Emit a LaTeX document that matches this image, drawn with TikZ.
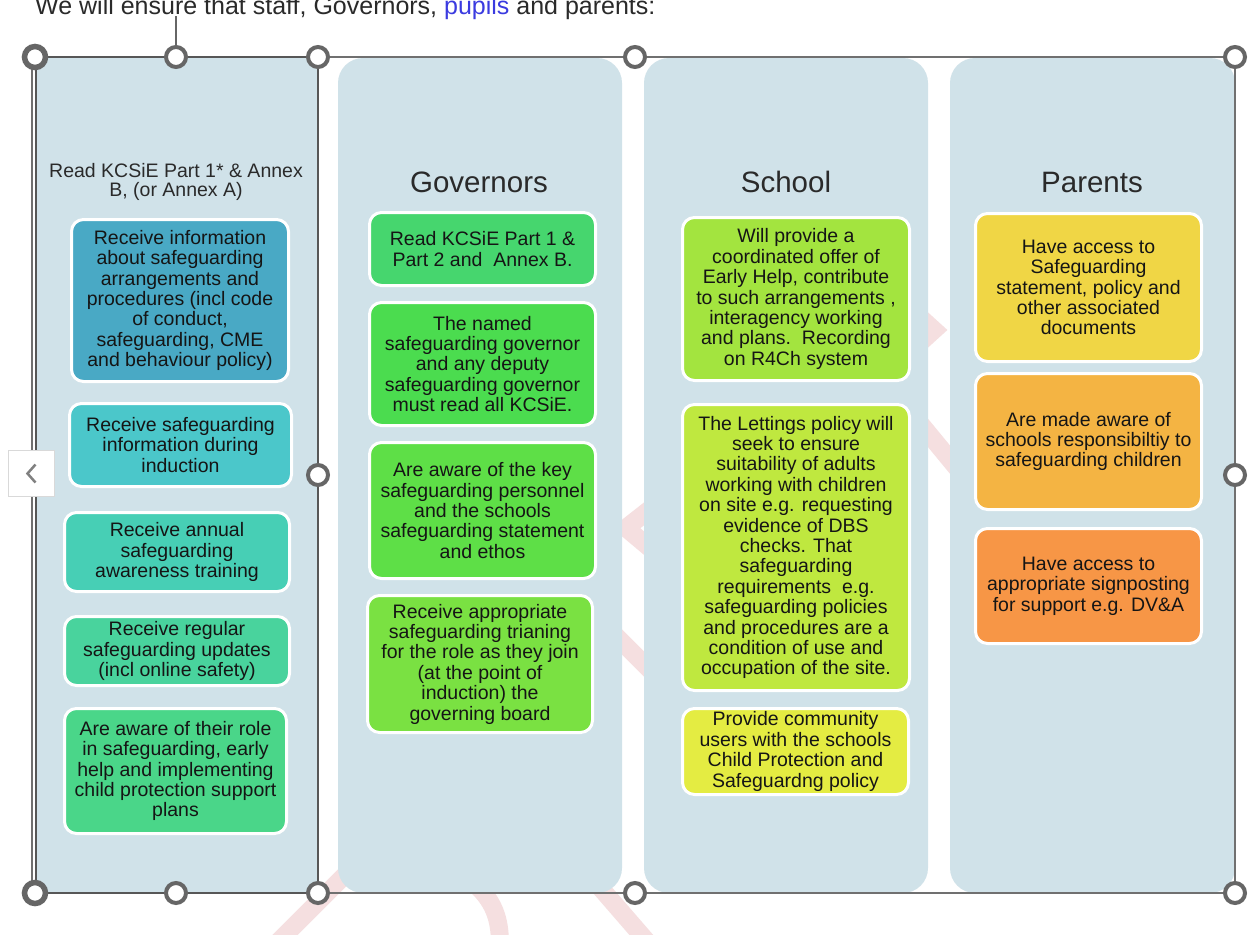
\documentclass[tikz,border=0pt]{standalone}
\usepackage{fontspec}
\setmainfont{Liberation Sans}
\definecolor{colbg}{HTML}{D0E2E9}
\definecolor{txt}{HTML}{151515}
\definecolor{hdrc}{HTML}{2A2A2A}
\definecolor{hgrey}{HTML}{666666}
\definecolor{frm}{HTML}{707070}
\definecolor{wm}{HTML}{F5DFE0}
\definecolor{linkblue}{HTML}{3B3BE0}
\definecolor{aa}{HTML}{49A9C5}
\definecolor{ab}{HTML}{4BC7CA}
\definecolor{ac}{HTML}{47CFB5}
\definecolor{ad}{HTML}{49D39D}
\definecolor{ae}{HTML}{4AD689}
\definecolor{ba}{HTML}{46D66E}
\definecolor{bb}{HTML}{4BDC4F}
\definecolor{bc}{HTML}{5EDF47}
\definecolor{bd}{HTML}{7AE142}
\definecolor{ca}{HTML}{A3E43F}
\definecolor{cb}{HTML}{BFE83F}
\definecolor{cc}{HTML}{E4EC42}
\definecolor{da}{HTML}{F0D645}
\definecolor{db}{HTML}{F4B443}
\definecolor{dc}{HTML}{F79646}
\tikzset{
  col/.style={fill=colbg, draw=none, rounded corners=25pt},
  itembox/.style={draw=white, line width=3pt, rounded corners=12pt, align=center,
    inner sep=0pt, text=txt, font=\fontsize{19.5}{20.4}\selectfont},
  hdr/.style={text=hdrc, font=\fontsize{29.5}{30}\selectfont, inner sep=0pt},
  handle/.style={circle, draw=hgrey, fill=white, line width=4pt, minimum size=20pt, inner sep=0pt},
  bighandle/.style={handle, line width=5.5pt, minimum size=21pt},
  wmstroke/.style={draw=wm, line width=18pt},
}
\begin{document}
\begin{tikzpicture}[x=1pt, y=-1pt]
\useasboundingbox (0,0) rectangle (1254,935);
\fill[white] (0,0) rectangle (1254,935);

% faint watermark behind the columns
\draw[wmstroke] (700,470) -- (626,528) -- (700,590);
\draw[wmstroke] (600,620) -- (680,700);
\draw[wmstroke] (890,290) -- (934,330) -- (890,370);
\draw[wmstroke] (905,405) -- (975,490);
\draw[wmstroke] (350,870) -- (275,945);
\draw[wmstroke] (470,880) .. controls (495,900) and (500,920) .. (500,945);
\draw[wmstroke] (585,870) -- (650,945);

% top line of text (cut by the page edge)
\node[anchor=base west, inner sep=0pt, text=hdrc, font=\fontsize{25}{25}\selectfont] (toptext) at (35,14)
  {We will ensure that staff, Governors, \textcolor{linkblue}{pupils} and parents:};

% columns
\fill[colbg] (37,57) rectangle (318,893);
\path[col] (338,58) rectangle (622,893);
\path[col] (644,58) rectangle (928,893);
\path[col] (950,58) rectangle (1235,893);

% selection frames
\draw[frm, line width=1.5pt] (32,57) rectangle (1235,893);
\draw[hgrey!85!black, line width=2.5pt] (36,57) rectangle (318,893);

% headers
\node[text=hdrc, align=center, inner sep=0pt, font=\fontsize{19.5}{19.5}\selectfont] (h1) at (176,182)
  {Read KCSiE Part 1* \& Annex\\B, (or Annex A)};
\node[hdr] (h2) at (479,182) {Governors};
\node[hdr] (h3) at (786,182) {School};
\node[hdr] (h4) at (1092,182) {Parents};

% staff column
\node[itembox, fill=aa, minimum width=217pt, minimum height=162pt] (a1) at (180,300.5)
  {Receive information\\about safeguarding\\arrangements and\\procedures (incl code\\of conduct,\\safeguarding, CME\\and behaviour policy)};
\node[itembox, fill=ab, minimum width=222pt, minimum height=83pt] (a2) at (180.5,445)
  {Receive safeguarding\\information during\\induction};
\node[itembox, fill=ac, minimum width=225pt, minimum height=79pt] (a3) at (177,552)
  {Receive annual\\safeguarding\\awareness training};
\node[itembox, fill=ad, minimum width=225pt, minimum height=69pt] (a4) at (177,651)
  {Receive regular\\safeguarding updates\\(incl online safety)};
\node[itembox, fill=ae, minimum width=222pt, minimum height=125pt] (a5) at (175.5,771)
  {Are aware of their role\\in safeguarding, early\\help and implementing\\child protection support\\plans};

% governors column
\node[itembox, fill=ba, minimum width=226pt, minimum height=73pt] (b1) at (482.5,249)
  {Read KCSiE Part 1 \&\\Part 2 and\ \ Annex B.};
\node[itembox, fill=bb, minimum width=226pt, minimum height=123pt] (b2) at (482.5,364)
  {The named\\safeguarding governor\\and any deputy\\safeguarding governor\\must read all KCSiE.};
\node[itembox, fill=bc, minimum width=226pt, minimum height=136pt] (b3) at (482.5,510.5)
  {Are aware of the key\\safeguarding personnel\\and the schools\\safeguarding statement\\and ethos};
\node[itembox, fill=bd, minimum width=225pt, minimum height=137pt] (b4) at (480,664)
  {Receive appropriate\\safeguarding trianing\\for the role as they join\\(at the point of\\induction) the\\governing board};

% school column
\node[itembox, fill=ca, minimum width=227pt, minimum height=163pt] (c1) at (796,299)
  {Will provide a\\coordinated offer of\\Early Help, contribute\\to such arrangements ,\\interagency working\\and plans.\ \ Recording\\on R4Ch system};
\node[itembox, fill=cb, minimum width=227pt, minimum height=286pt] (c2) at (796,547.5)
  {The Lettings policy will\\seek to ensure\\suitability of adults\\working with children\\on site e.g. requesting\\evidence of DBS\\checks. That\\safeguarding\\requirements\ \ e.g.\\safeguarding policies\\and procedures are a\\condition of use and\\occupation of the site.};
\node[itembox, fill=cc, minimum width=226pt, minimum height=86pt] (c3) at (795.5,751.5)
  {Provide community\\users with the schools\\Child Protection and\\Safeguardng policy};

% parents column
\node[itembox, fill=da, minimum width=226pt, minimum height=148pt] (d1) at (1088.5,287.5)
  {Have access to\\Safeguarding\\statement, policy and\\other associated\\documents};
\node[itembox, fill=db, minimum width=226pt, minimum height=136pt] (d2) at (1088.5,441.5)
  {Are made aware of\\schools responsibiltiy to\\safeguarding children};
\node[itembox, fill=dc, minimum width=226pt, minimum height=115pt] (d3) at (1088.5,586)
  {Have access to\\appropriate signposting\\for support e.g. DV\&A};

% rotation handle stem
\coordinate (rtop) at (176,16);
\node[handle] (p2) at (176,57) {};
\draw[hgrey, line width=1.5pt] (p2.north) -- (rtop);

% selection handles
\node[bighandle] (p1) at (35,57) {};
\node[handle] (p3) at (318,57) {};
\node[handle] (p4) at (635,57) {};
\node[handle] (p5) at (1235,57) {};
\node[handle] (p6) at (318,475) {};
\node[handle] (p7) at (1235,475) {};
\node[bighandle] (p8) at (35,893) {};
\node[handle] (p9) at (176,893) {};
\node[handle] (p10) at (318,893) {};
\node[handle] (p11) at (635,893) {};
\node[handle] (p12) at (1235,893) {};

% collapse button
\node[draw=black!15, fill=white, line width=1.5pt, minimum width=46pt, minimum height=46pt, inner sep=0pt] (btn) at (31.5,473.5) {};
\draw[black!50, line width=2.5pt] ([xshift=4pt,yshift=9pt]btn.center) -- ([xshift=-4pt]btn.center) -- ([xshift=4pt,yshift=-9pt]btn.center);
\end{tikzpicture}
\end{document}
